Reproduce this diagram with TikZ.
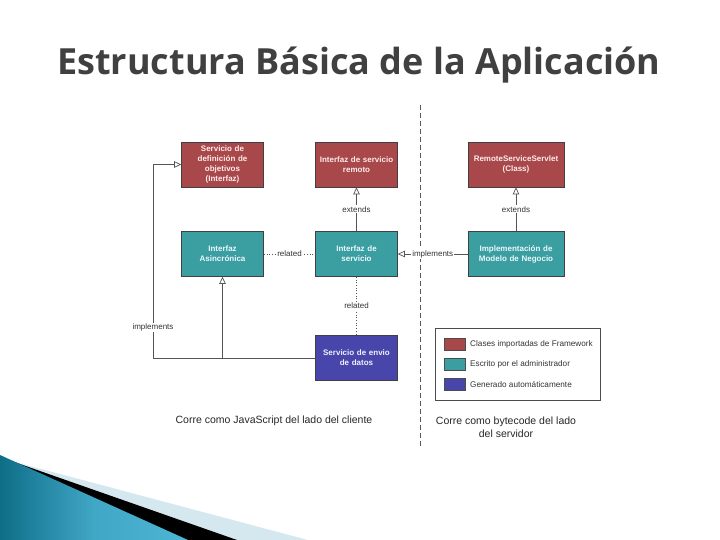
\documentclass[tikz,border=0pt]{standalone}
\usepackage{fontspec}
\setmainfont{Liberation Sans}
\newfontfamily\titlefont{Open Sans}
\usetikzlibrary{arrows.meta}
\definecolor{fwred}{HTML}{A8484B}
\definecolor{admteal}{HTML}{3B9EA0}
\definecolor{genblue}{HTML}{4846AA}
\definecolor{linegray}{HTML}{555555}
\definecolor{titlegray}{HTML}{404040}
\definecolor{lightband}{HTML}{D6E8EF}
\definecolor{tealdark}{HTML}{0E6E88}
\definecolor{teallight}{HTML}{4DB5D5}
\tikzset{
  box/.style={draw=black!75, line width=0.6pt, minimum width=81pt, minimum height=45pt,
    inner sep=1pt, align=center, text width=80pt, font=\fontsize{8}{10}\selectfont\bfseries},
  widebox/.style={minimum width=96pt, text width=94pt},
  fwbox/.style={box, fill=fwred, text=red!8},
  admbox/.style={box, fill=admteal, text=cyan!8},
  genbox/.style={box, fill=genblue, text=blue!6},
  lbl/.style={fill=white, inner sep=1pt, font=\fontsize{8}{9}\selectfont, text=black!80},
  conn/.style={draw=linegray, line width=0.7pt},
  dotconn/.style={draw=linegray, line width=0.7pt, dotted},
  hollow/.style={-{Triangle[open, length=7pt, width=6.5pt]}},
  swatch/.style={draw=black!70, line width=0.5pt, minimum width=21pt, minimum height=12pt, inner sep=0pt},
  legtxt/.style={anchor=west, inner sep=0pt, font=\fontsize{8.2}{9}\selectfont, text=black!80},
  caption/.style={font=\fontsize{10.5}{13}\selectfont, text=black!85, align=center},
}
\begin{document}
\begin{tikzpicture}[x=1pt, y=-1pt]
\useasboundingbox (0,0) rectangle (720,540);
% bottom-left decoration
\fill[lightband] (0,458) -- (308,540) -- (0,540) -- cycle;
\fill[black] (0,457) -- (237,540) -- (0,540) -- cycle;
\shade[left color=tealdark, right color=teallight, middle color=teallight!80!tealdark] (0,455) -- (188,540) -- (0,540) -- cycle;
% title
\node[titlegray, font=\titlefont\fontsize{36}{42}\selectfont\bfseries] (title) at (359,65) {Estructura Básica de la Aplicación};
% divider
\coordinate (divtop) at (420,105);
\coordinate (divbot) at (420,447);
\draw[linegray, line width=0.9pt, dash pattern=on 5pt off 3pt] (divtop) -- (divbot);
% nodes
\node[fwbox] (sdo) at (222.5,164.5) {Servicio de\\definición de\\objetivos\\(Interfaz)};
\node[fwbox] (isr) at (356.5,164.5) {Interfaz de servicio\\remoto};
\node[fwbox, widebox] (rss) at (516,164.5) {RemoteServiceServlet\\(Class)};
\node[admbox] (ia) at (222.5,254) {Interfaz\\Asincrónica};
\node[admbox] (is) at (356.5,254) {Interfaz de\\servicio};
\node[admbox, widebox] (imn) at (516,254) {Implementación de\\Modelo de Negocio};
\node[genbox] (sed) at (356.5,358) {Servicio de envio\\de datos};
% connectors
\draw[conn, hollow] (is) -- node[lbl, pos=0.5] {extends} (isr);
\draw[conn, hollow] (imn) -- node[lbl, pos=0.5] {implements} (is);
\draw[conn, hollow] (imn) -- node[lbl, pos=0.5] {extends} (rss);
\draw[dotconn] (ia) -- node[lbl, pos=0.5] {related} (is);
\draw[dotconn] (is) -- node[lbl, pos=0.5] {related} (sed);
\coordinate (bend1) at (153,358);
\coordinate (bend2) at (153,164.5);
\coordinate (branch) at (222.5,358);
\draw[conn, hollow] (sed.west) -- (bend1) -- node[lbl, pos=0.157] {implements} (bend2) -- (sdo.west);
\draw[conn, hollow] (branch) -- (ia.south);
% legend
\node[draw=black!70, line width=0.6pt, minimum width=165pt, minimum height=72pt, inner sep=0pt] (legend) at (517.5,364) {};
\node[swatch, fill=fwred] (sw1) at (454.5,344) {};
\node[swatch, fill=admteal] (sw2) at (454.5,364) {};
\node[swatch, fill=genblue] (sw3) at (454.5,384.5) {};
\node[legtxt] (lt1) at (470,344) {Clases importadas de Framework};
\node[legtxt] (lt2) at (470,364) {Escrito por el administrador};
\node[legtxt] (lt3) at (470,384.5) {Generado automáticamente};
% captions
\node[caption] (cap1) at (274,421) {Corre como JavaScript del lado del cliente};
\node[caption] (cap2) at (506,427.5) {Corre como bytecode del lado\\del servidor};
\end{tikzpicture}
\end{document}
